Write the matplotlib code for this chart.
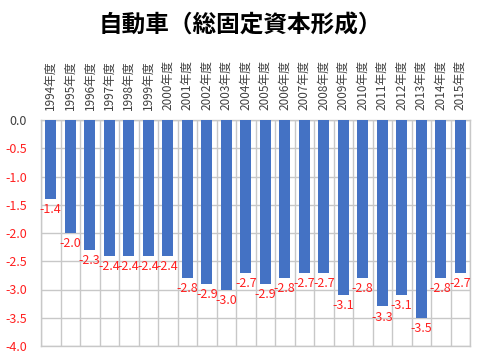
import matplotlib
matplotlib.use("Agg")
import matplotlib.pyplot as plt
import numpy as np

plt.rcParams['font.family'] = ['Noto Sans CJK JP', 'DejaVu Sans']

years = [f"{y}年度" for y in range(1994, 2016)]
values = [-1.4, -2.0, -2.3, -2.4, -2.4, -2.4, -2.4, -2.8, -2.9, -3.0, -2.7,
          -2.9, -2.8, -2.7, -2.7, -3.1, -2.8, -3.3, -3.1, -3.5, -2.8, -2.7]
yticks = [0.0, -0.5, -1.0, -1.5, -2.0, -2.5, -3.0, -3.5, -4.0]
title = "自動車（総固定資本形成）"

fig = plt.figure(figsize=(4.8, 3.57), dpi=100)
ax = fig.add_axes([41/480, 1-346/357, (470-41)/480, (346-120)/357])

x = np.arange(len(values))
ax.bar(x, values, width=0.55, color='#4472C4', zorder=3)
for xi, v in zip(x, values):
    ax.annotate(f"{v:.1f}", (xi, v), xytext=(0, -3), textcoords='offset points',
                ha='center', va='top', color='#FF2020', fontsize=9, zorder=4)

ax.set_xlim(-0.5, len(values)-0.5)
ax.set_ylim(-4.0, 0.0)
ax.set_yticks(yticks)
ax.set_yticklabels([f"{t:.1f}" for t in yticks], fontsize=9)
for lbl, t in zip(ax.get_yticklabels(), yticks):
    lbl.set_color('#404040' if t == 0 else '#FF2020')

ax.set_xticks(x)
ax.set_xticklabels(years, rotation=90, fontsize=8.5, color='#404040')
ax.xaxis.tick_top()
ax.tick_params(axis='both', length=0)
ax.tick_params(axis='x', pad=7)
ax.tick_params(axis='y', pad=10)

ax.set_xticks(np.arange(-0.5, len(values), 1.0), minor=True)
ax.grid(False)
ax.grid(which='minor', axis='x', color='#c8c8c8', linewidth=1, zorder=0)
ax.grid(which='major', axis='y', color='#c8c8c8', linewidth=1, zorder=0)
ax.tick_params(which='minor', length=0)
for s in ax.spines.values():
    s.set_color('#c8c8c8')
    s.set_linewidth(1)

fig.text(0.5, 1-26/357, title, ha='center', va='center', fontsize=17, fontweight='bold')

fig.savefig("out.png", dpi=100)
